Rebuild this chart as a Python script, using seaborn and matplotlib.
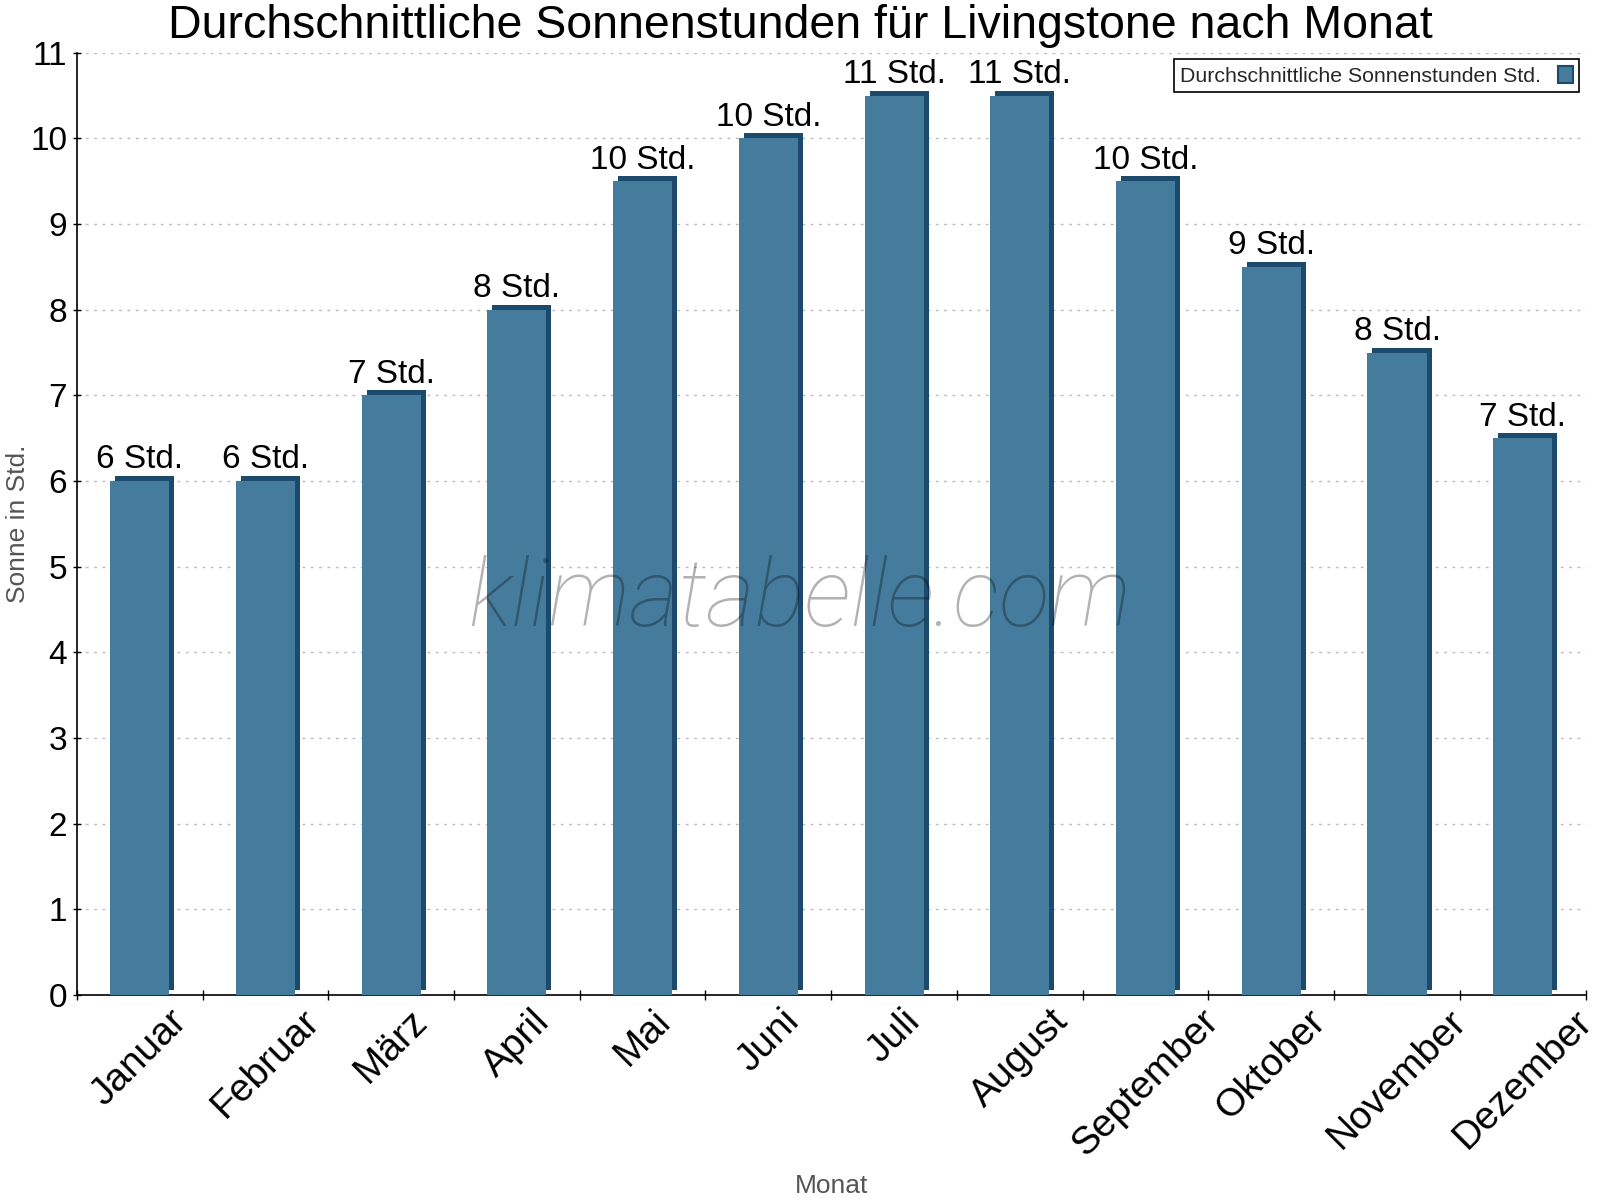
import matplotlib
matplotlib.use("Agg")
import matplotlib.pyplot as plt
import matplotlib.transforms as mtransforms
from matplotlib.patches import Rectangle, Patch
from matplotlib.ticker import FixedLocator
import seaborn as sns
import pandas as pd

months = ["Januar", "Februar", "März", "April", "Mai", "Juni", "Juli",
          "August", "September", "Oktober", "November", "Dezember"]
sun_hours = [6, 6, 7, 8, 9.5, 10, 10.5, 10.5, 9.5, 8.5, 7.5, 6.5]
bar_labels = ["6 Std.", "6 Std.", "7 Std.", "8 Std.", "10 Std.", "10 Std.", "11 Std.",
              "11 Std.", "10 Std.", "9 Std.", "8 Std.", "7 Std."]
y_ticks = list(range(0, 12))
series_name = "Durchschnittliche Sonnenstunden Std."

front = "#457b9d"
dark = "#1b4a6c"

sns.set_theme(style="white")
plt.rcParams["font.family"] = ["Liberation Sans", "DejaVu Sans"]

df = pd.DataFrame({"Monat": months, "Sonne": sun_hours})

fig = plt.figure(figsize=(16, 12), dpi=100)
ax = fig.add_axes([0.048, 0.171, 0.943, 0.785])

sns.barplot(data=df, x="Monat", y="Sonne", color=front, saturation=1,
            width=0.47, ax=ax, zorder=3)

# 3D-like depth: a dark copy of every bar shifted a few pixels right/up
shift = mtransforms.offset_copy(ax.transData, fig=fig, x=5, y=5, units="dots")
for p in list(ax.patches):
    p.set_edgecolor("none")
    r = Rectangle((p.get_x(), p.get_y()), p.get_width(), p.get_height(),
                  facecolor=dark, edgecolor="none", transform=shift, zorder=2,
                  clip_on=False)
    ax.add_patch(r)

ax.bar_label(ax.containers[0], labels=bar_labels, padding=4, fontsize=24,
             color="black", zorder=5)

ax.set_ylim(0, 11)
ax.set_xlim(-0.5, len(months) - 0.5)
ax.set_yticks(y_ticks)
ax.tick_params(axis="y", labelsize=24, length=6, width=1, color="black",
               direction="inout", left=True, pad=4, labelcolor="black")
ax.tick_params(axis="x", which="major", labelsize=28, length=0, pad=6,
               labelcolor="black")
ax.xaxis.set_minor_locator(FixedLocator([i - 0.5 for i in range(len(months) + 1)]))
ax.tick_params(axis="x", which="minor", length=7, width=1, color="black",
               direction="inout", bottom=True)
for lbl in ax.get_xticklabels():
    lbl.set_rotation(45)
    lbl.set_ha("center")
    lbl.set_va("top")

ax.yaxis.grid(True, linestyle=(0, (2, 4)), color="#bbbbbb", linewidth=1, zorder=0)
ax.set_axisbelow(True)
for s in ["top", "right"]:
    ax.spines[s].set_visible(False)
for s in ["left", "bottom"]:
    ax.spines[s].set_color("black")
    ax.spines[s].set_linewidth(1.2)

ax.set_xlabel("Monat", fontsize=19, color="#555555")
ax.set_ylabel("Sonne in Std.", fontsize=19, color="#555555")
ax.xaxis.set_label_coords(0.5, -0.19)
ax.yaxis.set_label_coords(-0.031, 0.5)

fig.text(0.5, 0.978, "Durchschnittliche Sonnenstunden für Livingstone nach Monat",
         fontsize=33.5, color="black", ha="center", va="center")

handle = Patch(facecolor=front, edgecolor=dark, linewidth=1.5)
leg = ax.legend([handle], [series_name], loc="upper right",
                bbox_to_anchor=(1.0, 1.0), borderaxespad=0.3,
                markerfirst=False, fontsize=15.3,
                frameon=True, fancybox=False, framealpha=1, edgecolor="black",
                handlelength=0.7, handleheight=0.9, borderpad=0.3)
leg.get_frame().set_linewidth(1.2)

fig.text(0.5, 0.5, "klimatabelle.com", fontsize=67.5, style="italic",
         family=["Roboto", "DejaVu Sans"], fontweight="light",
         color="black", alpha=0.3, ha="center", va="center", zorder=10)

fig.savefig("out.png", dpi=100)
